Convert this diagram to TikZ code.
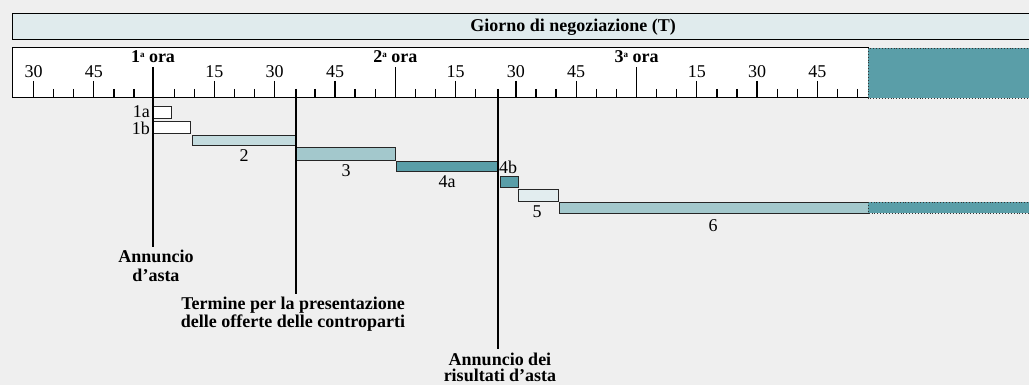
\documentclass[tikz,border=0pt]{standalone}
\usepackage{fontspec}
\setmainfont{Liberation Serif}
\definecolor{bgc}{HTML}{EFEFEF}
\definecolor{hdrc}{HTML}{E0EBED}
\definecolor{tealc}{HTML}{5A9EA8}
\definecolor{lbone}{HTML}{C3DBDE}
\definecolor{lbtwo}{HTML}{A3C8CC}
\definecolor{lbthree}{HTML}{E2EDEF}
\newcommand{\supa}{\raisebox{5.5pt}{\fontsize{9}{9}\selectfont a}}
\begin{document}
\begin{tikzpicture}[x=1pt,y=-1pt,
  txt/.style={font=\fontsize{18}{19}\selectfont, inner sep=0pt},
  btxt/.style={font=\fontsize{18}{19}\selectfont\bfseries, inner sep=0pt, align=center},
  bar/.style={draw=black!85, line width=0.9pt, inner sep=0pt, outer sep=0pt, anchor=north west},
  vline/.style={line width=1.8pt},
  tickl/.style={line width=1.3pt},
  dotbox/.style={fill=tealc, draw=black!80, dotted, line width=0.9pt}]
\useasboundingbox (0,0) rectangle (1029,385);
\fill[bgc] (0,0) rectangle (1029,385);
% header
\draw[fill=hdrc, line width=1pt] (12,14) rectangle (1040,39.5);
\node[btxt] (hdr) at (573,27) {Giorno di negoziazione (T)};
% timeline box
\draw[fill=white, line width=1pt] (12,48) rectangle (868,98);
\draw[dotbox] (868,48) rectangle (1040,98);
% ticks
\foreach \m in {0,15,45,60,75,105,120,135,165,180,195}
  \draw[tickl] ({33.5+4.02*\m},81) -- ({33.5+4.02*\m},98);
\foreach \m in {5,10,20,25,35,40,50,55,70,80,85,95,100,110,125,130,140,145,155,160,170,175,185,190,200,205}
  \draw[tickl] ({33.5+4.02*\m},89) -- ({33.5+4.02*\m},98);
\foreach \m in {90,150}
  \draw[tickl] ({33.5+4.02*\m},67) -- ({33.5+4.02*\m},98);
\foreach \m/\t in {0/30,15/45,45/15,60/30,75/45,105/15,120/30,135/45,165/15,180/30,195/45}
  \node[txt] (n\m) at ({33.5+4.02*\m},72) {\t};
\node[btxt] (h1) at (153,57) {1\supa{} ora};
\node[btxt] (h2) at ({33.5+4.02*90},57) {2\supa{} ora};
\node[btxt] (h3) at ({33.5+4.02*150},57) {3\supa{} ora};
% bars
\node[bar, fill=white, minimum width=18pt, minimum height=12pt] (b1a) at (153,106) {};
\node[bar, fill=white, minimum width=37pt, minimum height=12pt] (b1b) at (153,121.5) {};
\node[bar, fill=lbone, minimum width=103.5pt, minimum height=10pt] (b2) at (192.3,135.3) {};
\node[bar, fill=lbtwo, minimum width=99.3pt, minimum height=12.3pt] (b3) at (295.7,147.7) {};
\node[bar, fill=tealc, minimum width=102pt, minimum height=10.4pt] (b4a) at (396,161.3) {};
\node[bar, fill=tealc, minimum width=18pt, minimum height=11.5pt] (b4b) at (500,176) {};
\node[bar, fill=lbthree, minimum width=40pt, minimum height=12pt] (b5) at (518,189) {};
\node[bar, fill=lbtwo, minimum width=309pt, minimum height=11pt] (b6) at (559,202.3) {};
\draw[dotbox] (b6.north east) rectangle (1040,213.3);
% bar labels
\node[txt, anchor=east] (l1a) at (150,112) {1a};
\node[txt, anchor=east] (l1b) at (150,128) {1b};
\node[txt] (l2) at (244,156) {2};
\node[txt] (l3) at (346,171) {3};
\node[txt] (l4a) at (447,182) {4a};
\node[txt] (l4b) at (508,167) {4b};
\node[txt] (l5) at (537,212) {5};
\node[txt] (l6) at (713,226) {6};
% event labels
\node[btxt, anchor=north] (e1) at (156,250) {Annuncio\\d'asta};
\node[btxt, anchor=north, font=\fontsize{18}{18}\selectfont\bfseries] (e2) at (293,297) {Termine per la presentazione\\delle offerte delle controparti};
\node[btxt, anchor=north, font=\fontsize{18}{16}\selectfont\bfseries] (e3) at (500,353) {Annuncio dei\\risultati d'asta};
% event lines
\coordinate (t1) at (153,67);
\coordinate (t2) at (295.7,89);
\coordinate (t3) at (498,89);
\coordinate (x1) at (153,247);
\coordinate (x2) at (295.7,294);
\coordinate (x3) at (498,349);
\draw[vline] (t1) -- (x1);
\draw[vline] (t2) -- (x2);
\draw[vline] (t3) -- (x3);
\end{tikzpicture}
\end{document}
